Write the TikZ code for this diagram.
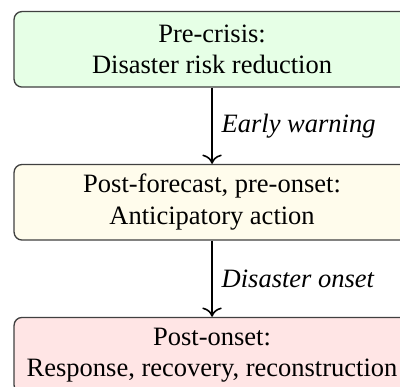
\documentclass[tikz,border=0pt]{standalone}
\usepackage{fontspec}
\setmainfont{Liberation Serif}
\usepackage{tikz}
\usepackage{xcolor}
\usetikzlibrary{positioning,arrows.meta}

\definecolor{precrisis}{RGB}{230,255,230}
\definecolor{preonset}{RGB}{255,252,236}
\definecolor{postonset}{RGB}{255,229,229}

\begin{document}
\begin{tikzpicture}[node distance=28.7pt,
                    phase/.style={draw=black!75, line width=0.5pt, rounded corners=3pt, align=center,
                                  minimum width=149.4pt, minimum height=28.5pt},
                    trigger/.style={right, font=\itshape}]
                    \useasboundingbox (0,0) rectangle (150.9pt,-145.7pt);
                    \node[phase, fill=precrisis] (pre) at (80pt,-18.6pt) {Pre-crisis:\\Disaster risk reduction};
                    \node[phase, fill=preonset, below=of pre] (antic) {Post-forecast, pre-onset:\\Anticipatory action};
                    \node[phase, fill=postonset, below=of antic] (post) {Post-onset:\\Response, recovery, reconstruction};
                    \draw[-{To[scale=1.2]}, line width=0.6pt] (pre) -- node[trigger] {Early warning} (antic);
                    \draw[-{To[scale=1.2]}, line width=0.6pt] (antic) -- node[trigger] {Disaster onset} (post);
                \end{tikzpicture}
\end{document}
